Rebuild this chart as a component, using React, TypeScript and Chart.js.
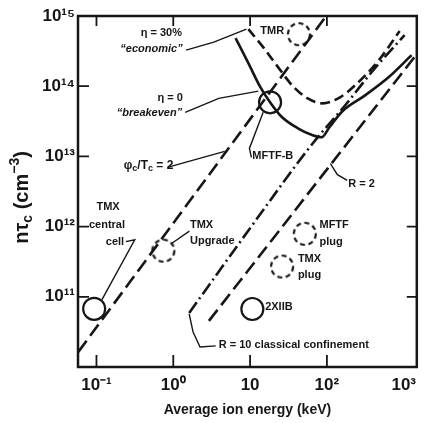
import React, { useEffect, useRef } from 'react';
import { Chart, registerables } from 'chart.js';

Chart.register(...registerables);

const FONT = "'Liberation Sans', Arial, sans-serif";
const INK = '#161616';

// axis limits and ticks
const energyMin = 0.0575;
const energyMax = 1480;
const ntMin = 1e10;
const ntMax = 1e15;
const xTickValues = [0.1, 1, 10, 100, 1000];
const xTickLabels = ['10⁻¹', '10⁰', '10', '10²', '10³'];
const yTickValues = [1e10, 1e11, 1e12, 1e13, 1e14, 1e15];
const yTickLabels = ['', '10¹¹', '10¹²', '10¹³', '10¹⁴', '10¹⁵'];

// phi_c / T_c = 2 line
const phiEnergy = [0.058, 96];
const phiNt = [1.64e10, 9.7e14];
// R = 2 line
const r2Energy = [2.91, 1380];
const r2Nt = [4.54e10, 2.6e14];
// R = 10 classical confinement
const r10Energy = [1.61, 9.51, 65.3, 173, 422, 1027];
const r10Nt = [5.9e10, 8.8e11, 1.53e13, 5.35e13, 1.81e14, 5.35e14];
// eta = 30% "economic"
const ecoEnergy = [9.5, 14.8, 23.1, 36.1, 56.3, 87.8, 150, 233, 475, 885];
const ecoNt = [6.5e14, 3.6e14, 1.87e14, 1.0e14, 6.7e13, 5.7e13, 7.0e13, 1.03e14, 2.35e14, 6.1e14];
// eta = 0 "breakeven"
const beEnergy = [6.47, 9.5, 13.6, 18.2, 25.3, 41.9, 65.3, 85.2, 108, 159, 314, 640, 1265];
const beNt = [4.85e14, 2.13e14, 9.7e13, 5.9e13, 3.73e13, 2.51e13, 2.0e13, 1.87e13, 2.6e13, 4.4e13, 7.4e13, 1.35e14, 2.77e14];

// devices (circles)
const deviceNames = ['TMX central cell', 'TMX Upgrade', 'MFTF-B', 'TMR', 'MFTF plug', 'TMX plug', '2XIIB'];
const deviceEnergy = [0.0933, 0.743, 18.2, 43.2, 51.5, 26.1, 10.7];
const deviceNt = [6.74e10, 4.54e11, 5.9e13, 5.5e14, 7.9e11, 2.7e11, 6.7e10];
const deviceProjected = [false, true, false, true, true, true, false];

// text annotations (anchored in data coordinates)
const notes = [
  { text: 'η = 30%', e: 0.7, n: 5.7e14, align: 'center' },
  { text: '“economic”', e: 0.52, n: 3.4e14, align: 'center', italic: true },
  { text: 'η = 0', e: 0.91, n: 6.7e13, align: 'center' },
  { text: '“breakeven”', e: 0.49, n: 4.1e13, align: 'center', italic: true },
  { text: 'TMR', e: 13.6, n: 6.1e14, align: 'left' },
  { text: 'MFTF-B', e: 10.7, n: 1.0e13, align: 'left' },
  { text: 'R = 2', e: 190, n: 4.1e12, align: 'left' },
  { text: 'TMX', e: 0.1415, n: 1.93e12, align: 'center' },
  { text: 'central', e: 0.137, n: 1.07e12, align: 'center' },
  { text: 'cell', e: 0.174, n: 6.1e11, align: 'center' },
  { text: 'TMX', e: 1.65, n: 1.07e12, align: 'left' },
  { text: 'Upgrade', e: 1.65, n: 6.3e11, align: 'left' },
  { text: 'MFTF', e: 80, n: 1.07e12, align: 'left' },
  { text: 'plug', e: 80, n: 6.1e11, align: 'left' },
  { text: 'TMX', e: 41.9, n: 3.5e11, align: 'left' },
  { text: 'plug', e: 41.9, n: 2.06e11, align: 'left' },
  { text: '2XIIB', e: 15.7, n: 7.2e10, align: 'left' },
  { text: 'R = 10 classical confinement', e: 3.91, n: 2.06e10, align: 'left' },
];
const phiNote = { e: 0.477, n: 7.4e12 };

// leader lines
const leaderEnergy = [
  [1.47, 3.37, 8.96],
  [1.43, 3.91, 12.8],
  [0.837, 4.67],
  [10.4, 9.8, 14.8],
  [184, 137, 111],
  [0.241, 0.315, 0.118],
  [1.62, 0.94],
  [3.57, 2.23, 1.81, 1.61],
];
const leaderNt = [
  [3.27e14, 4.25e14, 6.5e14],
  [4.25e13, 6.7e13, 8.5e13],
  [6.97e12, 1.18e13],
  [9.7e12, 1.3e13, 4.25e13],
  [4.54e12, 5.5e12, 7.9e12],
  [6.1e11, 6.5e11, 9.1e10],
  [8.6e11, 5.7e11],
  [2.0e10, 1.93e10, 3.16e10, 5.7e10],
];

const xy = (e: number[], n: number[]) => e.map((v, i) => ({ x: v, y: n[i] }));

function dashedCircle(r: number) {
  const c = document.createElement('canvas');
  const s = Math.ceil(2 * r + 6);
  c.width = s;
  c.height = s;
  const g = c.getContext('2d')!;
  g.strokeStyle = INK;
  g.lineWidth = 2.2;
  g.setLineDash([5, 3.5]);
  g.beginPath();
  g.arc(s / 2, s / 2, r, 0, Math.PI * 2);
  g.stroke();
  return c;
}

type Part = { t: string; size: number; dy?: number };
function drawRich(ctx: CanvasRenderingContext2D, parts: Part[], x: number, y: number) {
  let total = 0;
  const widths = parts.map((p) => {
    ctx.font = `bold ${p.size}px ${FONT}`;
    const w = ctx.measureText(p.t).width;
    total += w;
    return w;
  });
  let cur = x - total / 2;
  parts.forEach((p, i) => {
    ctx.font = `bold ${p.size}px ${FONT}`;
    ctx.fillText(p.t, cur, y + (p.dy || 0));
    cur += widths[i];
  });
}

const overlay = {
  id: 'overlay',
  afterDatasetsDraw(chart: any) {
    const { ctx, chartArea: a } = chart;
    const sx = chart.scales.x;
    const sy = chart.scales.y;
    ctx.save();
    ctx.strokeStyle = INK;
    ctx.fillStyle = INK;
    ctx.setLineDash([]);
    // frame
    ctx.lineWidth = 2.5;
    ctx.strokeRect(a.left, a.top, a.right - a.left, a.bottom - a.top);
    // inward ticks
    ctx.lineWidth = 1.8;
    ctx.beginPath();
    xTickValues.filter((v) => v < 1000).forEach((v) => {
      const px = sx.getPixelForValue(v);
      ctx.moveTo(px, a.bottom);
      ctx.lineTo(px, a.bottom - 12);
      ctx.moveTo(px, a.top);
      ctx.lineTo(px, a.top + 10);
    });
    yTickValues.filter((v) => v > ntMin && v < ntMax).forEach((v) => {
      const py = sy.getPixelForValue(v);
      ctx.moveTo(a.left, py);
      ctx.lineTo(a.left + 11, py);
      ctx.moveTo(a.right, py);
      ctx.lineTo(a.right - 10, py);
    });
    ctx.stroke();
    // notes
    ctx.textBaseline = 'middle';
    notes.forEach((nt: any) => {
      ctx.font = `${nt.italic ? 'italic ' : ''}bold 11px ${FONT}`;
      ctx.textAlign = nt.align;
      ctx.fillText(nt.text, sx.getPixelForValue(nt.e), sy.getPixelForValue(nt.n));
    });
    ctx.textAlign = 'left';
    drawRich(
      ctx,
      [
        { t: 'φ', size: 12 },
        { t: 'c', size: 9, dy: 3 },
        { t: '/T', size: 12 },
        { t: 'c', size: 9, dy: 3 },
        { t: ' = 2', size: 12 },
      ],
      sx.getPixelForValue(phiNote.e),
      sy.getPixelForValue(phiNote.n)
    );
    // y axis title
    ctx.translate(28, (a.top + a.bottom) / 2 + 6);
    ctx.rotate(-Math.PI / 2);
    ctx.textBaseline = 'alphabetic';
    drawRich(
      ctx,
      [
        { t: 'nτ', size: 20 },
        { t: 'c', size: 14, dy: 4 },
        { t: ' (cm', size: 20 },
        { t: '−3', size: 14, dy: -9 },
        { t: ')', size: 20 },
      ],
      0,
      0
    );
    ctx.restore();
  },
};

export default function App() {
  const ref = useRef<HTMLCanvasElement>(null);
  useEffect(() => {
    const canvas = ref.current!;
    const dashed = dashedCircle(11);
    const curve = (data: any, dash: number[], width = 2.6) => ({
      data,
      showLine: true,
      borderColor: INK,
      borderWidth: width,
      borderDash: dash,
      pointRadius: 0,
      fill: false,
      cubicInterpolationMode: 'monotone',
    });
    const solidDevices = xy(deviceEnergy, deviceNt).filter((_, i) => !deviceProjected[i]);
    const projDevices = xy(deviceEnergy, deviceNt).filter((_, i) => deviceProjected[i]);
    const chart = new Chart(canvas, {
      type: 'scatter',
      data: {
        datasets: [
          { label: 'η = 0 breakeven', ...curve(xy(beEnergy, beNt), []) },
          { label: 'η = 30% economic', ...curve(xy(ecoEnergy, ecoNt), [10, 5]) },
          { label: 'φc/Tc = 2', ...curve(xy(phiEnergy, phiNt), [14, 6]) },
          { label: 'R = 2', ...curve(xy(r2Energy, r2Nt), [14, 6]) },
          { label: 'R = 10 classical confinement', ...curve(xy(r10Energy, r10Nt), [13, 4, 2, 4]) },
          {
            label: 'Devices',
            data: solidDevices,
            showLine: false,
            pointStyle: 'circle',
            pointRadius: 11,
            pointBorderWidth: 2.2,
            pointBorderColor: INK,
            pointBackgroundColor: 'rgba(0,0,0,0)',
          },
          {
            label: 'Projected devices',
            data: projDevices,
            showLine: false,
            pointStyle: dashed,
            pointRadius: 11,
          },
          ...leaderEnergy.map((e, i) => ({
            label: 'leader',
            ...curve(xy(e, leaderNt[i]), [], 1.4),
            cubicInterpolationMode: 'default',
            tension: 0,
          })),
        ] as any,
      },
      options: {
        animation: false,
        responsive: false,
        devicePixelRatio: 1,
        layout: { padding: { top: 16, right: 10, left: 0, bottom: 0 } },
        plugins: { legend: { display: false }, tooltip: { enabled: false } },
        scales: {
          x: {
            type: 'logarithmic',
            min: energyMin,
            max: energyMax,
            afterBuildTicks: (s: any) => {
              s.ticks = xTickValues.map((v) => ({ value: v }));
            },
            afterFit: (s: any) => {
              s.height = 56;
            },
            grid: { display: false, drawTicks: false },
            border: { display: false },
            ticks: {
              autoSkip: false,
              maxRotation: 0,
              padding: 8,
              color: INK,
              font: { family: FONT, size: 17, weight: 'bold' },
              callback: (_v: any, i: number) => xTickLabels[i],
            },
            title: {
              display: true,
              text: 'Average ion energy (keV)',
              color: INK,
              font: { family: FONT, size: 14, weight: 'bold' },
              padding: { top: 0, bottom: 4 },
            },
          },
          y: {
            type: 'logarithmic',
            min: ntMin,
            max: ntMax,
            afterBuildTicks: (s: any) => {
              s.ticks = yTickValues.map((v) => ({ value: v }));
            },
            afterFit: (s: any) => {
              s.width = 78;
            },
            grid: { display: false, drawTicks: false },
            border: { display: false },
            ticks: {
              autoSkip: false,
              padding: 3,
              color: INK,
              font: { family: FONT, size: 17, weight: 'bold' },
              callback: (_v: any, i: number) => yTickLabels[i],
            },
          },
        },
      } as any,
      plugins: [overlay],
    });
    return () => chart.destroy();
  }, []);
  return (
    <canvas
      ref={ref}
      width={430}
      height={423}
      style={{ position: 'fixed', left: 0, top: 0, width: 430, height: 423, background: '#fff' }}
    />
  );
}
